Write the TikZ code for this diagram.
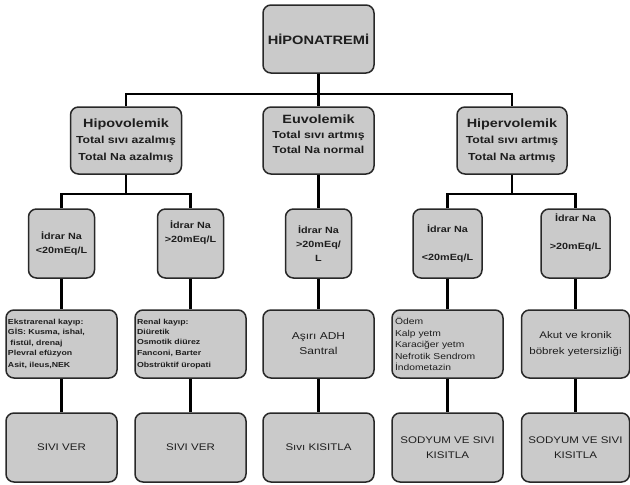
\documentclass[tikz,border=0pt]{standalone}
\usepackage{fontspec}
\setmainfont{Liberation Sans}[FakeStretch=1.2]
\definecolor{boxfill}{RGB}{202,202,202}
\definecolor{boxedge}{RGB}{40,40,40}
\definecolor{ink}{RGB}{30,30,30}
\tikzset{
  card/.style={draw=boxedge, line width=1.5pt, fill=boxfill, rounded corners=8pt, align=center, inner sep=1pt, text=ink},
  bigcard/.style={card, minimum width=111pt, minimum height=68pt},
  urinecard/.style={card, minimum width=66pt, minimum height=69pt, font=\fontsize{9}{14}\selectfont\bfseries},
  wire/.style={line width=2.4pt, black},
  inside/.style={align=center, text=ink, inner sep=0pt},
}
\begin{document}
\begin{tikzpicture}[x=1pt, y=-1pt]
\useasboundingbox (0,0) rectangle (630,485);

\node[bigcard, font=\fontsize{12.2}{14}\selectfont\bfseries] (hn) at (318.5,39) {HİPONATREMİ};

\node[bigcard, minimum height=67pt, font=\fontsize{10.2}{16.5}\selectfont\bfseries] (hipo) at (126,140.5) {{\fontsize{12}{16.5}\selectfont Hipovolemik}\\Total sıvı azalmış\\Total Na azalmış};
\node[bigcard, minimum height=67pt] (eu) at (318.5,140.5) {};
\node[inside, font=\fontsize{10.2}{15}\selectfont\bfseries] (eu text) at (318.5,134) {{\fontsize{12}{15}\selectfont Euvolemik}\\Total sıvı artmış\\Total Na normal};
\node[bigcard, minimum width=110pt, minimum height=67pt, font=\fontsize{10.2}{16.5}\selectfont\bfseries] (hiper) at (512,140.5) {{\fontsize{12}{16.5}\selectfont Hipervolemik}\\Total sıvı artmış\\Total Na artmış};

\node[urinecard] (ua) at (61.5,243.5) {İdrar Na\\<20mEq/L};
\node[urinecard] (ub) at (190.5,243.5) {};
\node[inside, font=\fontsize{9}{14}\selectfont\bfseries] (ub text) at (190.5,233) {İdrar Na\\>20mEq/L};
\node[urinecard] (uc) at (318.5,243.5) {İdrar Na\\>20mEq/\\L};
\node[urinecard, minimum width=69pt] (ud) at (447.5,243.5) {İdrar Na\\[14pt]<20mEq/L};
\node[urinecard, minimum width=69pt] (ue) at (575.5,243.5) {};
\node[inside, font=\fontsize{9}{14}\selectfont\bfseries] (ue text) at (575.5,233) {İdrar Na\\[14pt]>20mEq/L};

\node[bigcard, align=left, text width=107pt, inner xsep=2pt, font=\fontsize{7.3}{10.3}\selectfont\bfseries] (ka) at (61.5,344) {Ekstrarenal kayıp:\\GİS: Kusma, ishal,\\\ fistül, drenaj\\Plevral efüzyon\\[2pt]Asit, ileus,NEK};
\node[bigcard, align=left, text width=107pt, inner xsep=2pt, font=\fontsize{7.3}{10.3}\selectfont\bfseries] (kb) at (190.5,344) {Renal kayıp:\\Diüretik\\Osmotik diürez\\Fanconi, Barter\\[2pt]Obstrüktif üropati};
\node[bigcard, font=\fontsize{10}{15}\selectfont] (kc) at (318.5,344) {Aşırı ADH\\Santral};
\node[bigcard, align=left, text width=105pt, inner xsep=3pt, font=\fontsize{8.6}{11.5}\selectfont] (kd) at (447.5,344) {Ödem\\Kalp yetm\\Karaciğer yetm\\Nefrotik Sendrom\\İndometazin};
\node[bigcard, minimum width=108pt, font=\fontsize{9.6}{16}\selectfont] (ke) at (575.5,344) {Akut ve kronik\\böbrek yetersizliği};

\node[bigcard, minimum height=69pt, font=\fontsize{9.6}{15}\selectfont] (va) at (61.5,447.5) {SIVI VER};
\node[bigcard, minimum height=69pt, font=\fontsize{9.6}{15}\selectfont] (vb) at (190.5,447.5) {SIVI VER};
\node[bigcard, minimum height=69pt, font=\fontsize{9.6}{15}\selectfont] (vc) at (318.5,447.5) {Sıvı KISITLA};
\node[bigcard, minimum height=69pt, font=\fontsize{9.6}{15}\selectfont] (vd) at (447.5,447.5) {SODYUM VE SIVI\\KISITLA};
\node[bigcard, minimum width=108pt, minimum height=69pt, font=\fontsize{9.6}{15}\selectfont] (ve) at (575.5,447.5) {SODYUM VE SIVI\\KISITLA};

\coordinate (top bus) at (318.5,94);
\coordinate (hipo bus) at (126,194);
\coordinate (hiper bus) at (512,194);

\draw[wire] (hn) -- (eu);
\draw[wire] (hipo.north) |- (top bus) -| (hiper.north);

\draw[wire] (hipo) -- (hipo bus);
\draw[wire] (ua.north) |- (hipo bus) -| (ub.north);
\draw[wire] (eu) -- (uc);
\draw[wire] (hiper) -- (hiper bus);
\draw[wire] (ud.north) |- (hiper bus) -| (ue.north);

\draw[wire] (ua) -- (ka);
\draw[wire] (ub) -- (kb);
\draw[wire] (uc) -- (kc);
\draw[wire] (ud) -- (kd);
\draw[wire] (ue) -- (ke);

\draw[wire] (ka) -- (va);
\draw[wire] (kb) -- (vb);
\draw[wire] (kc) -- (vc);
\draw[wire] (kd) -- (vd);
\draw[wire] (ke) -- (ve);
\end{tikzpicture}
\end{document}
